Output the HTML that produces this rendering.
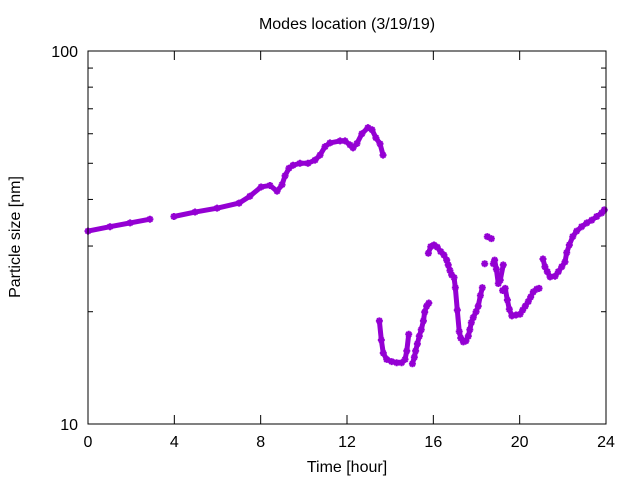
<!DOCTYPE html>
<html><head><meta charset="utf-8"><style>
body{margin:0;background:#fff}
svg text{font-family:"Liberation Sans",sans-serif;font-size:16px;fill:#000}
</style></head><body>
<svg id="chart" width="640" height="480" xmlns="http://www.w3.org/2000/svg">
<text x="347" y="29" text-anchor="middle">Modes location (3/19/19)</text>
<text x="347" y="472" text-anchor="middle">Time [hour]</text>
<text x="20" y="237" text-anchor="middle" transform="rotate(-90 20 237)">Particle size [nm]</text>
<g id="axes"></g>
<g id="marks"></g>
<rect x="88" y="51" width="518" height="373" fill="none" stroke="#000" stroke-width="1"/>
</svg>
<script>
const hours = [0,1.02,1.95,2.87,3.98,4.96,5.98,7.0,7.5,8.02,8.43,8.76,8.99,9.13,9.31,9.5,9.82,10.19,10.52,10.75,10.98,11.21,11.68,11.91,12.14,12.28,12.46,12.69,12.97,13.16,13.34,13.53,13.67,
13.50,13.59,13.68,13.84,14.07,14.30,14.53,14.69,14.77,14.86,15.03,15.12,15.18,15.26,15.35,15.44,15.54,15.60,15.69,15.79,15.77,15.88,16.03,16.18,16.34,16.49,16.62,16.69,16.77,16.85,16.96,17.02,17.11,17.20,17.27,17.39,17.51,17.62,17.69,17.76,17.85,17.98,18.08,18.18,18.27,18.38,18.50,18.69,18.78,18.84,18.92,19.01,19.10,19.24,19.21,19.33,19.43,19.52,19.64,19.83,20.02,20.14,20.26,20.40,20.51,20.63,20.79,20.90,21.08,21.17,21.28,21.41,21.64,21.79,21.95,22.10,22.18,22.30,22.46,22.64,22.87,23.11,23.34,23.57,23.80,23.92];
const sizes = [32.9,33.8,34.6,35.4,36.0,37.0,37.9,39.1,40.8,43.2,43.6,42.1,43.8,46.3,48.5,49.4,50,50,51,52.6,55.4,56.7,57.4,57.4,56,55,56.5,60,62.3,61.5,58.5,56.4,52.6,
18.9,16.8,15.5,14.9,14.7,14.6,14.6,14.9,15.7,17.4,14.5,15.1,15.7,16.4,17.2,17.9,18.9,19.95,20.7,21.1,28.7,29.9,30.2,29.8,29.0,28.4,27.5,26.7,25.8,25.1,24.7,23.2,20.2,17.7,17.0,16.6,16.7,17.2,17.9,18.7,19.3,20.0,20.7,22.1,23.2,26.9,31.8,31.4,26.9,27.5,26.0,23.8,24.3,26.7,22.8,23.1,21.5,20.3,19.5,19.6,19.7,20.2,20.7,21.3,21.9,22.6,23.0,23.1,27.7,26.4,25.6,24.8,24.9,25.6,26.4,27.2,28.8,30.2,31.8,32.9,33.8,34.6,35.2,36.0,36.8,37.5];
const xTicks = [0,4,8,12,16,20,24];
const xTickLabels = ["0","4","8","12","16","20","24"];
const yMajor = [10,100];
const yMajorLabels = ["10","100"];
const yMinor = [20,30,40,50,60,70,80,90];

const NS="http://www.w3.org/2000/svg";
const X0=88,X1=606,Y0=424,Y1=51;
const xs=h=>X0+(h/24)*(X1-X0);
const ys=v=>Y0-(Math.log10(v)-1)*(Y0-Y1);
function mk(tag,attrs,parent){const e=document.createElementNS(NS,tag);for(const k in attrs)e.setAttribute(k,attrs[k]);parent.appendChild(e);return e;}
const axes=document.getElementById('axes');
xTicks.forEach((t,i)=>{
  const x=xs(t);
  const l1=mk('line',{x1:x,y1:Y0,x2:x,y2:Y0-9,stroke:'#000'},axes);
  
  
  const l2=mk('line',{x1:x,y1:Y1,x2:x,y2:Y1+9,stroke:'#000'},axes);
  
  
  const tx=mk('text',{x:x,y:447,'text-anchor':'middle'},axes);
  tx.textContent=xTickLabels[i];
  
  
});
yMajor.forEach((v,i)=>{
  const y=ys(v);
  const tx=mk('text',{x:78,y:y+6,'text-anchor':'end'},axes);
  tx.textContent=yMajorLabels[i];
  
  
});
yMinor.forEach(v=>{
  const y=ys(v);
  const a=mk('line',{x1:X0,y1:y,x2:X0+5,y2:y,stroke:'#000'},axes);
  
  
  const b=mk('line',{x1:X1,y1:y,x2:X1-5,y2:y,stroke:'#000'},axes);
  
  
});
const marks=document.getElementById('marks');
const C='#9400d3';
for(let i=1;i<hours.length;i++){
  const xa=xs(hours[i-1]),ya=ys(sizes[i-1]),xb=xs(hours[i]),yb=ys(sizes[i]);
  if(Math.hypot(xb-xa,yb-ya)<24){
    const l=mk('line',{x1:xa,y1:ya,x2:xb,y2:yb,stroke:C,'stroke-width':5,'stroke-linecap':'round'},marks);
    
    
  }
}
hours.forEach((h,i)=>{
  const x=xs(h),y=ys(sizes[i]);
  const g=mk('g',{},marks);
  
  
  mk('path',{d:`M${x-3.5} ${y}H${x+3.5}M${x} ${y-3.5}V${y+3.5}M${x-2.5} ${y-2.5}L${x+2.5} ${y+2.5}M${x-2.5} ${y+2.5}L${x+2.5} ${y-2.5}`,stroke:C,'stroke-width':2},g);
});
</script>
</body></html>
